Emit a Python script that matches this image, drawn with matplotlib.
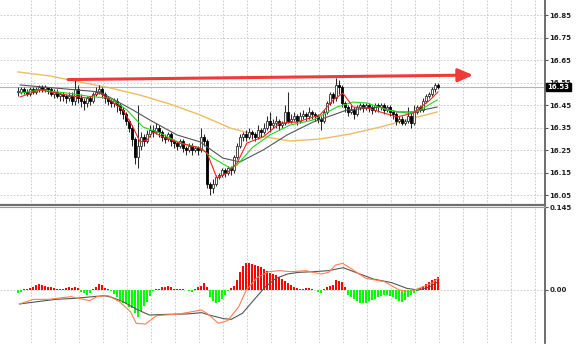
import numpy as np
import matplotlib.pyplot as plt
from matplotlib.transforms import blended_transform_factory

# H1 candles (bar 0 = leftmost)
first_open = 16.51
closes = [16.51, 16.52, 16.51, 16.50, 16.52, 16.51, 16.52, 16.53, 16.52, 16.53,
          16.52, 16.50, 16.51, 16.49, 16.50, 16.49, 16.48, 16.49, 16.47, 16.52,
          16.48, 16.47, 16.46, 16.48, 16.47, 16.50, 16.51, 16.52, 16.50, 16.48,
          16.47, 16.46, 16.47, 16.45, 16.43, 16.41, 16.38, 16.35, 16.30, 16.22,
          16.27, 16.31, 16.29, 16.32, 16.34, 16.33, 16.35, 16.33, 16.31, 16.30,
          16.32, 16.29, 16.28, 16.27, 16.29, 16.26, 16.25, 16.27, 16.25, 16.26,
          16.25, 16.31, 16.29, 16.10, 16.08, 16.10, 16.13, 16.14, 16.16, 16.15,
          16.17, 16.16, 16.22, 16.27, 16.31, 16.32, 16.31, 16.33, 16.32, 16.31,
          16.34, 16.33, 16.35, 16.38, 16.36, 16.37, 16.38, 16.36, 16.37, 16.42,
          16.38, 16.39, 16.40, 16.38, 16.40, 16.41, 16.40, 16.42, 16.41, 16.40,
          16.39, 16.38, 16.42, 16.46, 16.50, 16.48, 16.54, 16.53, 16.46, 16.44,
          16.42, 16.43, 16.41, 16.44, 16.45, 16.44, 16.45, 16.44, 16.43, 16.45,
          16.44, 16.45, 16.43, 16.44, 16.42, 16.41, 16.38, 16.39, 16.37, 16.38,
          16.40, 16.37, 16.42, 16.44, 16.43, 16.47, 16.49, 16.50, 16.52, 16.54,
          16.53]
highs = [16.53, 16.53, 16.53, 16.52, 16.53, 16.53, 16.53, 16.54, 16.54, 16.54,
         16.53, 16.53, 16.52, 16.52, 16.51, 16.51, 16.50, 16.51, 16.51, 16.56,
         16.54, 16.50, 16.48, 16.49, 16.49, 16.51, 16.53, 16.54, 16.53, 16.51,
         16.49, 16.48, 16.48, 16.48, 16.46, 16.44, 16.42, 16.39, 16.36, 16.31,
         16.45, 16.33, 16.32, 16.34, 16.36, 16.36, 16.37, 16.36, 16.34, 16.32,
         16.33, 16.33, 16.30, 16.29, 16.30, 16.30, 16.27, 16.28, 16.28, 16.27,
         16.27, 16.35, 16.32, 16.30, 16.11, 16.12, 16.14, 16.15, 16.17, 16.17,
         16.18, 16.18, 16.23, 16.28, 16.32, 16.33, 16.34, 16.35, 16.34, 16.33,
         16.36, 16.35, 16.37, 16.40, 16.42, 16.39, 16.40, 16.39, 16.38, 16.45,
         16.51, 16.41, 16.42, 16.41, 16.42, 16.43, 16.42, 16.44, 16.43, 16.42,
         16.41, 16.40, 16.43, 16.47, 16.51, 16.51, 16.57, 16.56, 16.54, 16.47,
         16.45, 16.45, 16.44, 16.45, 16.46, 16.46, 16.46, 16.46, 16.45, 16.46,
         16.46, 16.46, 16.46, 16.45, 16.45, 16.43, 16.42, 16.40, 16.40, 16.39,
         16.44, 16.42, 16.45, 16.45, 16.45, 16.48, 16.50, 16.51, 16.53, 16.55,
         16.55]
lows = [16.49, 16.50, 16.50, 16.49, 16.49, 16.50, 16.50, 16.51, 16.51, 16.51,
        16.50, 16.49, 16.48, 16.48, 16.47, 16.47, 16.46, 16.47, 16.45, 16.45,
        16.46, 16.44, 16.43, 16.44, 16.45, 16.46, 16.49, 16.50, 16.48, 16.46,
        16.45, 16.44, 16.44, 16.42, 16.41, 16.39, 16.36, 16.33, 16.27, 16.19,
        16.17, 16.25, 16.27, 16.28, 16.31, 16.31, 16.32, 16.31, 16.29, 16.28,
        16.29, 16.27, 16.26, 16.25, 16.26, 16.24, 16.23, 16.24, 16.23, 16.24,
        16.23, 16.24, 16.27, 16.08, 16.05, 16.06, 16.09, 16.12, 16.13, 16.13,
        16.14, 16.14, 16.15, 16.21, 16.26, 16.29, 16.29, 16.30, 16.30, 16.29,
        16.30, 16.31, 16.32, 16.34, 16.33, 16.35, 16.35, 16.34, 16.35, 16.36,
        16.37, 16.37, 16.38, 16.36, 16.37, 16.39, 16.38, 16.39, 16.39, 16.38,
        16.37, 16.34, 16.37, 16.41, 16.45, 16.46, 16.47, 16.50, 16.44, 16.42,
        16.40, 16.41, 16.39, 16.40, 16.43, 16.42, 16.43, 16.42, 16.41, 16.42,
        16.42, 16.43, 16.41, 16.42, 16.40, 16.39, 16.36, 16.37, 16.36, 16.36,
        16.37, 16.35, 16.36, 16.41, 16.42, 16.42, 16.46, 16.48, 16.49, 16.51,
        16.52]

# moving averages (bar, price)
ma_slow_x = [0, 10.7, 20.7, 30.7, 40.7, 50.7, 60.7, 70.7, 80.7, 90.7, 100.7, 110.7, 120.7, 130.7, 139.7]
ma_slow_y = [16.597, 16.579, 16.552, 16.526, 16.494, 16.454, 16.406, 16.348, 16.312, 16.290,
             16.299, 16.321, 16.352, 16.388, 16.419]
ma_gray_x = [0.7, 27.3, 38.3, 44, 53, 60.7, 68.3, 74, 81.7, 89.7, 98.3, 109.7, 120.7, 126.3, 131.7, 139.7]
ma_gray_y = [16.539, 16.508, 16.428, 16.383, 16.317, 16.286, 16.214, 16.197, 16.250, 16.317,
             16.374, 16.428, 16.441, 16.419, 16.419, 16.441]
ma_green_x = [0.7, 7.3, 16.3, 25, 30.7, 36.3, 41.7, 47.3, 54, 60.7, 65, 70.7, 73, 78.3, 84, 90.7,
              98.3, 106.3, 111.7, 116.3, 123, 129.7, 134, 139.7]
ma_green_y = [16.503, 16.517, 16.503, 16.486, 16.481, 16.428, 16.352, 16.326, 16.281, 16.259,
              16.214, 16.170, 16.183, 16.263, 16.317, 16.361, 16.383, 16.441, 16.463, 16.459,
              16.428, 16.414, 16.428, 16.472]
ma_red_x = [0.7, 7.3, 16.3, 23, 27.3, 30.7, 35, 38.3, 40.7, 43, 45, 48.3, 54, 60.7, 63, 66.3,
            69.7, 73, 76.3, 81.7, 87.3, 93, 100.7, 105, 108.3, 111.7, 116.3, 126.3, 131.7, 137.3, 140]
ma_red_y = [16.486, 16.517, 16.494, 16.481, 16.503, 16.472, 16.428, 16.352, 16.286, 16.294,
            16.330, 16.308, 16.281, 16.259, 16.237, 16.126, 16.148, 16.192, 16.281, 16.308,
            16.370, 16.374, 16.406, 16.472, 16.503, 16.441, 16.437, 16.397, 16.414, 16.472, 16.508]

# trend line drawn on the chart
trend_start = (16.7, 16.563)
trend_end = (151.7, 16.583)
last_price = 16.53

price_ticks = [16.05, 16.15, 16.25, 16.35, 16.45, 16.55, 16.65, 16.75, 16.85]

# MACD panel
hist = [-0.0047, -0.0035, 0.0012, 0.0017, 0.0029, 0.0047, 0.0081, 0.0105, 0.0093, 0.0070,
        0.0058, 0.0047, 0.0035, 0.0023, 0.0012, 0.0023, 0.0035, 0.0047, 0.0035, 0.0058,
        0.0029, -0.0035, -0.0058, -0.0081, -0.0058, 0.0023, 0.0058, 0.0105, 0.0081, 0.0035,
        0.0012, -0.0012, -0.0070, -0.0128, -0.0175, -0.0221, -0.0244, -0.0291, -0.0320, -0.0407,
        -0.0477, -0.0361, -0.0279, -0.0204, -0.0105, -0.0023, 0.0012, 0.0023, 0.0047, 0.0058,
        0.0070, 0.0047, 0.0023, 0.0017, 0.0012, 0.0012, 0.0006, -0.0017, -0.0035, 0.0023,
        0.0047, 0.0070, 0.0116, 0.0047, -0.0116, -0.0186, -0.0233, -0.0210, -0.0163, -0.0081,
        -0.0023, 0.0029, 0.0070, 0.0175, 0.0320, 0.0419, 0.0466, 0.0466, 0.0454, 0.0437,
        0.0419, 0.0396, 0.0361, 0.0338, 0.0303, 0.0279, 0.0256, 0.0233, 0.0186, 0.0151,
        0.0116, 0.0087, 0.0058, 0.0035, 0.0023, 0.0012, 0.0029, 0.0035, 0.0012, 0.0006,
        -0.0029, -0.0058, 0.0017, 0.0047, 0.0070, 0.0093, 0.0175, 0.0163, 0.0140, 0.0047,
        -0.0087, -0.0128, -0.0163, -0.0198, -0.0221, -0.0233, -0.0221, -0.0198, -0.0175, -0.0151,
        -0.0128, -0.0105, -0.0087, -0.0093, -0.0105, -0.0128, -0.0163, -0.0192, -0.0204, -0.0175,
        -0.0128, -0.0093, -0.0047, -0.0012, 0.0035, 0.0070, 0.0111, 0.0146, 0.0175, 0.0198, 0.0221]
macd_x = [0.5, 5.2, 10.2, 17.6, 23.9, 26.3, 30.1, 33.8, 37.5, 39.4, 42.5, 46.2, 53.7, 61.2, 63.7,
          66.8, 69.9, 73.6, 76.1, 79.8, 83.6, 87.3, 91.0, 96.0, 101.0, 103.5, 105.9, 108.2, 110.9,
          115.9, 122.1, 127.1, 130.8, 134.5, 138.3, 140]
macd_y = [-0.0244, -0.0163, -0.0163, -0.0116, -0.0186, -0.0116, -0.0099, -0.0204, -0.0378, -0.0582,
          -0.0594, -0.0448, -0.0419, -0.0349, -0.0437, -0.0582, -0.0535, -0.0291, 0.0, 0.0221,
          0.0320, 0.0338, 0.0320, 0.0338, 0.0279, 0.0308, 0.0437, 0.0466, 0.0378, 0.0204,
          0.0146, 0.0, -0.0029, 0.0047, 0.0128, 0.0204]
signal_x = [0.5, 6.4, 12.7, 18.9, 25.1, 28.8, 31.3, 35.0, 40.0, 43.8, 50.0, 56.2, 61.2, 63.7, 68.6,
            71.1, 74.8, 78.6, 82.3, 86.0, 89.8, 93.5, 98.5, 103.5, 108.4, 113.4, 118.4, 124.6,
            129.6, 133.3, 137.0, 140]
signal_y = [-0.0244, -0.0204, -0.0163, -0.0146, -0.0116, -0.0099, -0.0128, -0.0204, -0.0349, -0.0437,
            -0.0425, -0.0419, -0.0396, -0.0437, -0.0501, -0.0512, -0.0407, -0.0175, 0.0047, 0.0204,
            0.0279, 0.0308, 0.0320, 0.0338, 0.0390, 0.0291, 0.0192, 0.0128, 0.0029, 0.0, 0.0047, 0.0146]

W, H = 582, 355
fig = plt.figure(figsize=(W / 100, H / 100), dpi=100)
ax = fig.add_axes([0, 1 - 205 / H, 545 / W, 205 / H])
ax2 = fig.add_axes([0, 1 - 343 / H, 545 / W, 136 / H])

x = np.arange(len(closes))
c = np.array(closes)
o = np.array([first_open] + closes[:-1])
hi = np.array(highs)
lo = np.array(lows)
up = c >= o
body_bot = np.minimum(o, c)
body_h = np.maximum(np.abs(c - o), 0.002)

grid_x = np.arange(4.5, 176, 8)
gstyle = dict(color='#c4c4c4', linestyle=(0, (2, 2)), linewidth=0.6)

# main chart
ax.set_xlim(-6, 175.67)
ax.set_ylim(16.0056, 16.9167)
ax.set_xticks(grid_x)
ax.set_yticks(price_ticks)
ax.grid(True, **gstyle)
ax.set_axisbelow(True)

ax.plot(ma_slow_x, ma_slow_y, color='#edbd63', lw=1.0, zorder=2)
ax.axhline(last_price, color='#b4b4b4', lw=0.8, zorder=2)
ax.vlines(x, lo, hi, color='#2a2a2a', lw=0.75, zorder=3)
ax.bar(x[up], body_h[up], bottom=body_bot[up], width=0.75, color='white',
       edgecolor='#303030', linewidth=0.6, zorder=4)
ax.bar(x[~up], body_h[~up], bottom=body_bot[~up], width=0.75, color='black',
       edgecolor='black', linewidth=0.6, zorder=4)
ax.plot(ma_gray_x, ma_gray_y, color='#555555', lw=0.8, zorder=5)
ax.plot(ma_green_x, ma_green_y, color='#1fd81f', lw=0.8, zorder=5)
ax.plot(ma_red_x, ma_red_y, color='#ff2020', lw=0.8, zorder=6)

ax.annotate('', xy=trend_end, xytext=trend_start, zorder=7,
            arrowprops=dict(arrowstyle='-|>,head_length=0.9,head_width=0.4',
                            color='#f03a3a', lw=2.2, shrinkA=0, shrinkB=0))

tr = blended_transform_factory(ax.transAxes, ax.transData)
ax.text(1.004, last_price, '%.2f' % last_price, transform=tr, ha='left', va='center',
        fontsize=5, color='white', fontweight='bold', zorder=10, clip_on=False,
        bbox=dict(boxstyle='square,pad=0.2', facecolor='black', edgecolor='black'))

# MACD panel
ax2.set_xlim(-6, 175.67)
ax2.set_ylim(-0.0926, 0.145)
ax2.set_xticks(grid_x)
ax2.set_yticks([0.145, 0.0])
ax2.set_yticklabels(['0.145', '0.00'])
ax2.grid(True, **gstyle)
ax2.set_axisbelow(True)
h = np.array(hist)
ax2.bar(x[h >= 0], h[h >= 0], width=0.7, color='#ff0000', zorder=3)
ax2.bar(x[h < 0], h[h < 0], width=0.7, color='#00ff00', zorder=3)
ax2.plot(signal_x, signal_y, color='#555555', lw=0.8, zorder=4)
ax2.plot(macd_x, macd_y, color='#ff7f50', lw=0.8, zorder=5)
ax2.get_yticklabels()[0].set_va('top')

for a in (ax, ax2):
    a.set_facecolor('white')
    a.spines['top'].set_visible(False)
    a.spines['left'].set_visible(False)
    a.spines['bottom'].set_visible(False)
    a.spines['right'].set_color('#555555')
    a.spines['right'].set_linewidth(1.2)
    a.yaxis.tick_right()
    a.tick_params(axis='y', direction='out', length=2, width=0.8, color='#555555',
                  labelsize=5, labelcolor='#222222', pad=1)
    a.tick_params(axis='x', bottom=False, labelbottom=False)
    for lab in a.get_yticklabels():
        lab.set_fontweight('bold')

ax.spines['bottom'].set_visible(True)
ax.spines['bottom'].set_color('#6e6e6e')
ax.spines['bottom'].set_linewidth(1.6)
ax2.spines['top'].set_visible(True)
ax2.spines['top'].set_color('#9a9a9a')
ax2.spines['top'].set_linewidth(0.8)

fig.savefig('out.png', dpi=100)
